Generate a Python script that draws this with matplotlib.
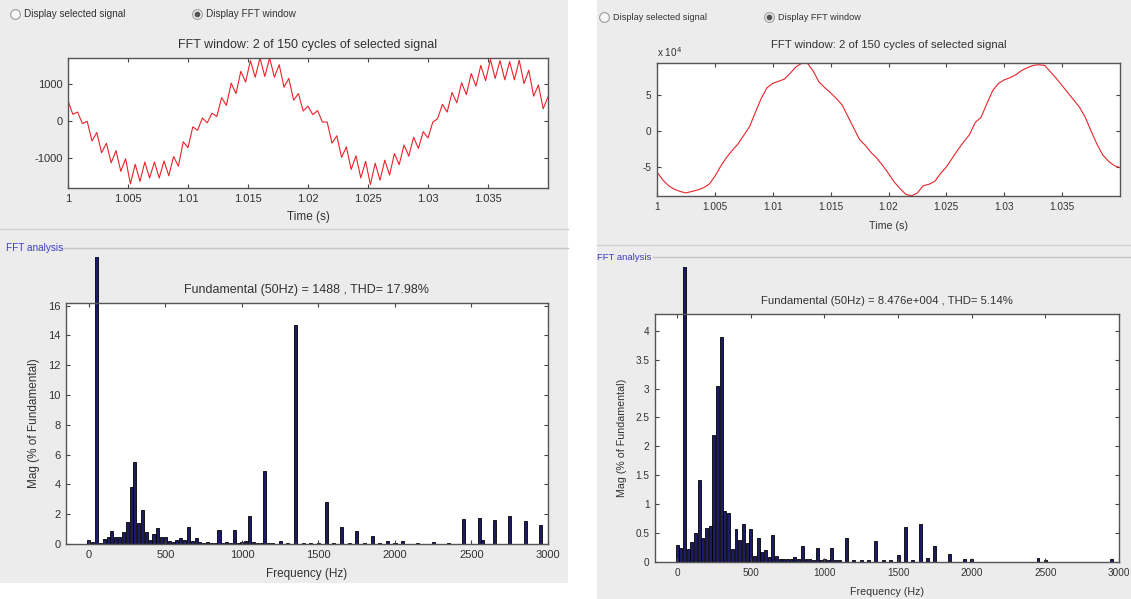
import numpy as np
import matplotlib
matplotlib.use("Agg")
import matplotlib.pyplot as plt
from matplotlib.lines import Line2D
from matplotlib.patches import Rectangle
from matplotlib.transforms import Bbox, TransformedBbox

plt.rcParams['font.family'] = ['Liberation Sans', 'DejaVu Sans']

# ---------------- data ----------------
# left window: current with switching ripple (A), 0.4 ms samples
left_signal = [550, 180, 240, -70, -10, -540, -310, -860, -600, -1130,
               -800, -1360, -1020, -1700, -1170, -1630, -1110, -1540, -1110, -1540,
               -1080, -1480, -960, -1220, -560, -720, -160, -250, 80, -50,
               210, 120, 630, 420, 1020, 740, 1340, 1050, 1630, 1180,
               1700, 1200, 1700, 1180, 1520, 910, 1150, 560, 740, 270,
               400, 170, 280, -30, -30, -600, -400, -980, -700, -1310,
               -940, -1540, -1090, -1720, -1140, -1600, -1060, -1460, -880, -1180,
               -650, -950, -440, -740, -290, -460, -30, 60, 450, 240,
               770, 490, 1030, 710, 1280, 940, 1500, 1090, 1660, 1150,
               1630, 1110, 1600, 1110, 1640, 1010, 1370, 670, 970, 330,
               650]

# right window: smoother signal (x 10^4), 0.5 ms samples
right_signal = [-5.7, -6.8, -7.6, -8.1, -8.4, -8.6, -8.4, -8.2, -7.9, -7.4,
                -6.3, -4.9, -3.7, -2.7, -1.8, -0.6, 0.6, 2.6, 4.5, 6.0,
                6.6, 6.9, 7.2, 8.0, 8.9, 9.4, 9.4, 8.3, 6.8, 6.0,
                5.3, 4.5, 3.6, 2.0, 0.4, -1.2, -2.0, -3.0, -3.8, -4.8,
                -5.9, -7.1, -8.0, -8.8, -9.0, -8.6, -7.6, -7.4, -7.0, -5.9,
                -5.0, -3.8, -2.6, -1.5, -0.5, 1.2, 1.9, 3.8, 5.6, 6.6,
                7.1, 7.4, 7.8, 8.4, 8.8, 9.1, 9.2, 9.1, 8.2, 7.3,
                6.3, 5.3, 4.3, 3.3, 1.9, 0.0, -1.8, -3.3, -4.2, -4.8,
                -5.1]

fund_freq = 50
left_fund = 1488
left_thd = 17.98
right_fund = 8.476e4
right_thd = 5.14

# harmonic spectra, % of fundamental
left_freq = [0, 25, 75, 100, 125, 150, 175, 200, 225, 250, 275, 300, 325, 350, 375,
             400, 425, 450, 475, 500, 525, 550, 575, 600, 625, 650, 675, 700, 725,
             750, 775, 800, 825, 850, 875, 900, 925, 950, 975, 1000, 1025, 1050,
             1075, 1100, 1125, 1150, 1175, 1200, 1250, 1300, 1350, 1400, 1450,
             1500, 1550, 1600, 1650, 1700, 1750, 1800, 1850, 1900, 1950, 2000,
             2050, 2150, 2250, 2350, 2450, 2550, 2575, 2650, 2750, 2850, 2950]
left_mag = [0.3, 0.15, 0.1, 0.35, 0.45, 0.85, 0.45, 0.5, 0.8, 1.5, 3.8, 5.5, 1.4, 2.3, 0.8,
            0.3, 0.7, 1.05, 0.5, 0.45, 0.2, 0.15, 0.3, 0.4, 0.3, 1.15, 0.2, 0.4, 0.15,
            0.1, 0.15, 0.1, 0.05, 0.95, 0.1, 0.15, 0.1, 0.95, 0.1, 0.15, 0.2, 1.9,
            0.15, 0.05, 0.1, 4.9, 0.05, 0.05, 0.2, 0.05, 14.7, 0.1, 0.1,
            0.1, 2.8, 0.1, 1.15, 0.1, 0.85, 0.05, 0.55, 0.1, 0.2, 0.1,
            0.2, 0.05, 0.15, 0.1, 1.65, 1.75, 0.3, 1.6, 1.9, 1.55, 1.25]

right_freq = [0, 25, 75, 100, 125, 150, 175, 200, 225, 250, 275, 300, 325, 350, 375,
              400, 425, 450, 475, 500, 525, 550, 575, 600, 625, 650, 675, 700, 725,
              750, 775, 800, 825, 850, 875, 900, 925, 950, 975, 1000, 1025, 1050,
              1075, 1100, 1150, 1200, 1250, 1300, 1350, 1400, 1450, 1500, 1550,
              1600, 1650, 1700, 1750, 1850, 1950, 2000, 2450, 2500, 2950]
right_mag = [0.3, 0.25, 0.22, 0.35, 0.5, 1.42, 0.42, 0.58, 0.62, 2.2, 3.05, 3.9, 0.88, 0.85, 0.22,
             0.57, 0.38, 0.65, 0.33, 0.57, 0.1, 0.42, 0.17, 0.2, 0.08, 0.47, 0.1, 0.06, 0.06,
             0.06, 0.06, 0.08, 0.06, 0.27, 0.06, 0.06, 0.04, 0.25, 0.04, 0.05, 0.04, 0.24,
             0.03, 0.03, 0.42, 0.03, 0.03, 0.03, 0.37, 0.03, 0.03, 0.12, 0.6,
             0.04, 0.65, 0.07, 0.28, 0.13, 0.05, 0.05, 0.07, 0.04, 0.05]

time_ticks = [1, 1.005, 1.01, 1.015, 1.02, 1.025, 1.03, 1.035]
time_labels = ['1', '1.005', '1.01', '1.015', '1.02', '1.025', '1.03', '1.035']
freq_ticks = [0, 500, 1000, 1500, 2000, 2500, 3000]

# ---------------- figure ----------------
W, H = 1131, 599
fig = plt.figure(figsize=(W / 100, H / 100), dpi=100, facecolor='#ececec')

def fx(px):
    return px / W

def fy(py):
    return 1 - py / H

# white gap between the two screenshots
fig.add_artist(Rectangle((fx(568), 0), fx(597) - fx(568), 1, transform=fig.transFigure,
                         facecolor='white', edgecolor='none', zorder=0))
fig.add_artist(Rectangle((0, 0), fx(568), fy(583), transform=fig.transFigure,
                         facecolor='white', edgecolor='none', zorder=0))

TXT = '#333333'
SPINE = '#555555'


def style_axes(ax, fs):
    ax.set_facecolor('white')
    for s in ax.spines.values():
        s.set_color(SPINE)
        s.set_linewidth(1.0)
    ax.tick_params(direction='in', length=3, width=0.8, color='#444444',
                   top=True, right=True, labelsize=fs, labelcolor=TXT, pad=4)


def radio(x, y, label, selected, fs):
    fig.add_artist(Line2D([fx(x)], [fy(y)], marker='o', markersize=7, mfc='#f8f8f8',
                          mec='#9a9a9a', mew=0.8, transform=fig.transFigure))
    if selected:
        fig.add_artist(Line2D([fx(x)], [fy(y)], marker='o', markersize=3.2, mfc='#555555',
                              mec='#555555', transform=fig.transFigure))
    fig.text(fx(x + 9), fy(y), label, fontsize=fs, color=TXT, va='center', ha='left')


def group_label(x, y, x_end, fs):
    fig.text(fx(x), fy(y), 'FFT analysis', fontsize=fs, color='#3f3fc0', va='center', ha='left')
    fig.add_artist(Line2D([fx(x + 56), fx(x_end)], [fy(y), fy(y)], color='#c4c4c4',
                          lw=1.0, transform=fig.transFigure))


def time_panel(rect, t, sig, ylim, yticks, ylabels, title, fs, tpad, lpad):
    ax = fig.add_axes(rect)
    ax.plot(t, sig, color='#e8242a', lw=0.8)
    ax.set_xlim(1, 1.04)
    ax.set_ylim(*ylim)
    ax.set_xticks(time_ticks)
    ax.set_xticklabels(time_labels)
    ax.set_yticks(yticks)
    ax.set_yticklabels(ylabels)
    ax.set_title(title, fontsize=fs + 1, color=TXT, pad=tpad)
    ax.set_xlabel('Time (s)', fontsize=fs + 0.5, color=TXT, labelpad=lpad)
    style_axes(ax, fs)
    return ax


def fft_panel(rect, freqs, mags, fund, thd, fund_txt, clip_top, yticks, ylabels, fs, lpad):
    ax = fig.add_axes(rect)
    ax.bar(freqs, mags, width=20, color='#1c1c66', edgecolor='black', linewidth=0.6)
    fb = ax.bar([fund_freq], [100], width=20, color='#1c1c66', edgecolor='black', linewidth=0.6)
    pos = ax.get_position()
    clip = TransformedBbox(Bbox([[pos.x0, pos.y0], [pos.x1, fy(clip_top)]]), fig.transFigure)
    for p in fb.patches:
        p.set_clip_box(clip)
    ax.set_xlim(-150, 3000)
    ax.set_ylim(0, max(mags) * 1.1)
    ax.set_xticks(freq_ticks)
    ax.set_yticks(yticks)
    ax.set_yticklabels(ylabels)
    ax.set_title('Fundamental (%dHz) = %s , THD= %.2f%%' % (fund_freq, fund_txt, thd),
                 fontsize=fs + 1, color=TXT, pad=7)
    ax.set_xlabel('Frequency (Hz)', fontsize=fs + 0.5, color=TXT, labelpad=lpad)
    ax.set_ylabel('Mag (% of Fundamental)', fontsize=fs + 0.5, color=TXT, labelpad=6)
    style_axes(ax, fs)
    return ax


# ---------------- left screenshot ----------------
radio(15, 14, 'Display selected signal', False, 7.2)
radio(197, 14, 'Display FFT window', True, 7.2)

t_left = np.linspace(1, 1.04, len(left_signal))
time_panel([fx(68), fy(188), fx(548) - fx(68), fy(58) - fy(188)], t_left, left_signal,
           (-1810, 1700), [-1000, 0, 1000], ['-1000', '0', '1000'],
           'FFT window: 2 of 150 cycles of selected signal', 8, 7, 5)

fig.add_artist(Line2D([fx(0), fx(568)], [fy(229), fy(229)], color='#d0d0d0', lw=1.0,
                      transform=fig.transFigure))
group_label(6, 248, 568, 7.2)

fft_panel([fx(66), fy(544), fx(548) - fx(66), fy(303) - fy(544)], left_freq, left_mag,
          left_fund, left_thd, '%d' % left_fund, 257,
          [0, 2, 4, 6, 8, 10, 12, 14, 16], ['0', '2', '4', '6', '8', '10', '12', '14', '16'], 8, 6)

# ---------------- right screenshot ----------------
radio(604, 17, 'Display selected signal', False, 6.6)
radio(769, 17, 'Display FFT window', True, 6.6)

t_right = np.linspace(1, 1.04, len(right_signal))
ax_rt = time_panel([fx(657), fy(196), fx(1120) - fx(657), fy(63) - fy(196)], t_right, right_signal,
                   (-9.03, 9.44), [-5, 0, 5], ['-5', '0', '5'],
                   'FFT window: 2 of 150 cycles of selected signal', 7.2, 11, 7)
ax_rt.text(0.0, 1.03, 'x 10$^4$', transform=ax_rt.transAxes, fontsize=7.2, color=TXT,
           ha='left', va='bottom')

fig.add_artist(Line2D([fx(597), fx(1131)], [fy(245), fy(245)], color='#d0d0d0', lw=1.0,
                      transform=fig.transFigure))
group_label(597, 257, 1131, 6.8)

fft_panel([fx(655), fy(562), fx(1119) - fx(655), fy(314) - fy(562)], right_freq, right_mag,
          right_fund, right_thd, '8.476e+004', 267,
          [0, 0.5, 1, 1.5, 2, 2.5, 3, 3.5, 4], ['0', '0.5', '1', '1.5', '2', '2.5', '3', '3.5', '4'], 7.2, 7)

fig.savefig('out.png', dpi=100, facecolor=fig.get_facecolor())
